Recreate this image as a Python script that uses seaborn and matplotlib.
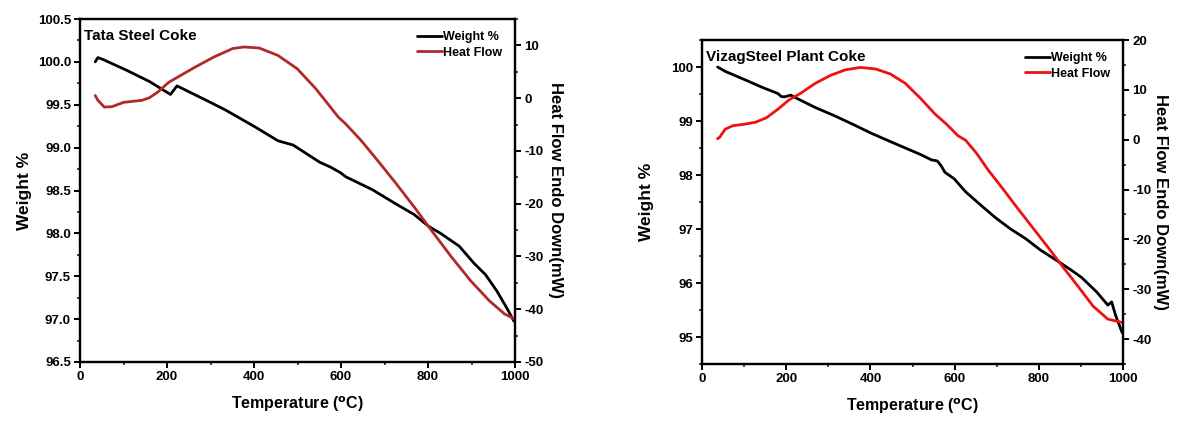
import pandas as pd
import numpy as np
import matplotlib
matplotlib.use('Agg')
import matplotlib.pyplot as plt
import seaborn as sns
from matplotlib.ticker import MultipleLocator

# Tata Steel Coke - TGA / DSC
tata_temp_w = [35, 41, 52, 108, 160, 208, 223, 291, 334, 403, 455, 490, 551, 577, 598, 611,
               672, 724, 768, 802, 829, 872, 906, 932, 958, 980, 997, 1000]
tata_weight = [100.0, 100.05, 100.03, 99.9, 99.77, 99.62, 99.72, 99.55, 99.44, 99.24, 99.08, 99.03,
               98.83, 98.77, 98.71, 98.66, 98.51, 98.35, 98.22, 98.08, 98.0, 97.85, 97.65, 97.52,
               97.33, 97.14, 96.98, 96.97]
tata_temp_h = [35, 41, 56, 74, 100, 143, 160, 178, 204, 225, 265, 308, 351, 377, 412, 455, 499,
               542, 594, 611, 646, 681, 724, 768, 811, 854, 898, 941, 976, 1000]
tata_heat = [0.5, -0.4, -1.7, -1.6, -0.8, -0.4, 0.1, 1.1, 3.0, 4.0, 5.9, 7.8, 9.4, 9.7, 9.5, 8.1,
             5.6, 1.8, -3.6, -4.9, -8.0, -11.5, -15.9, -20.6, -25.4, -30.1, -34.6, -38.4, -40.9, -41.9]

# Vizag Steel Plant Coke - TGA / DSC
vizag_temp_w = [37, 55, 73, 109, 144, 180, 189, 198, 211, 220, 269, 314, 358, 403, 447, 492, 519,
                545, 559, 568, 577, 599, 626, 661, 697, 733, 769, 804, 840, 875, 902, 938, 964,
                973, 982, 998]
vizag_weight = [100.0, 99.92, 99.86, 99.74, 99.62, 99.51, 99.45, 99.45, 99.48, 99.44, 99.25, 99.10,
                98.94, 98.77, 98.62, 98.47, 98.38, 98.28, 98.26, 98.17, 98.05, 97.93, 97.69, 97.45,
                97.21, 97.00, 96.82, 96.61, 96.43, 96.25, 96.10, 95.83, 95.59, 95.65, 95.41, 95.08]
vizag_temp_h = [37, 42, 55, 73, 100, 127, 153, 180, 207, 234, 269, 305, 340, 376, 412, 447, 483,
                519, 554, 581, 608, 626, 652, 679, 715, 750, 786, 822, 857, 893, 929, 964, 1000]
vizag_heat = [0.2, 0.5, 2.1, 2.8, 3.1, 3.5, 4.4, 6.1, 8.0, 9.3, 11.3, 12.9, 14.0, 14.5, 14.2, 13.2,
              11.3, 8.3, 5.1, 3.1, 0.8, -0.1, -2.7, -6.0, -9.9, -13.8, -17.7, -21.6, -25.5, -29.4,
              -33.4, -36.0, -36.7]

sns.set_style('ticks')
plt.rcParams['font.family'] = ['Liberation Sans', 'DejaVu Sans']
plt.rcParams['font.weight'] = 'bold'
plt.rcParams['mathtext.default'] = 'bf'
plt.rcParams['axes.unicode_minus'] = False
plt.rcParams['text.color'] = 'black'
plt.rcParams['axes.labelcolor'] = 'black'

fig = plt.figure(figsize=(11.78, 4.21), dpi=100)
W, H = 1178, 421


def make_panel(rect, title, tw, w, th, h, heat_color, wlim, wmajor, wminor, hlim, hfmt,
               lpad, rpad):
    ax1 = fig.add_axes(rect)
    ax2 = ax1.twinx()
    sns.lineplot(x=tw, y=w, ax=ax1, color='black', lw=2, label='Weight %', legend=False)
    sns.lineplot(x=th, y=h, ax=ax2, color=heat_color, lw=2, label='Heat Flow', legend=False)
    ax1.set_xlim(0, 1000)
    ax1.set_ylim(*wlim)
    ax2.set_ylim(*hlim)
    ax1.xaxis.set_major_locator(MultipleLocator(200))
    ax1.xaxis.set_minor_locator(MultipleLocator(100))
    ax1.yaxis.set_major_locator(MultipleLocator(wmajor))
    ax1.yaxis.set_minor_locator(MultipleLocator(wminor))
    ax2.yaxis.set_major_locator(MultipleLocator(10))
    ax2.yaxis.set_minor_locator(MultipleLocator(5))
    if hfmt:
        ax1.yaxis.set_major_formatter(plt.FormatStrFormatter(hfmt))
    for ax in (ax1, ax2):
        for s in ax.spines.values():
            s.set_linewidth(1.6)
            s.set_color('black')
        ax.tick_params(which='major', length=4, width=1.4, labelsize=9.5, colors='black', pad=2.5)
        ax.tick_params(which='minor', length=2.5, width=1.2)
    ax1.set_xlabel('Temperature ($^{o}$C)', fontsize=11.5, fontweight='bold', labelpad=8)
    ax1.set_ylabel('Weight %', fontsize=12.5, fontweight='bold', labelpad=lpad)
    ax2.set_ylabel('Heat Flow Endo Down(mW)', fontsize=12, fontweight='bold',
                   rotation=-90, labelpad=rpad)
    ax1.text(0.01, 0.97, title, transform=ax1.transAxes, fontsize=11,
             fontweight='bold', va='top', ha='left')
    handles = ax1.get_lines()[:1] + ax2.get_lines()[:1]
    ax2.legend(handles, ['Weight %', 'Heat Flow'], loc='upper right', frameon=False,
               fontsize=9, handlelength=2.0, handletextpad=0.1, borderaxespad=0.6,
               labelspacing=0.25)
    return ax1, ax2


make_panel([80 / W, 1 - 362 / H, 435 / W, 343 / H], 'Tata Steel Coke',
           tata_temp_w, tata_weight, tata_temp_h, tata_heat, '#b02a2a',
           (96.5, 100.5), 0.5, 0.25, (-50, 15), '%.1f', 4, 14)
make_panel([702 / W, 1 - 364 / H, 421 / W, 324 / H], 'VizagSteel Plant Coke',
           vizag_temp_w, vizag_weight, vizag_temp_h, vizag_heat, '#ee1111',
           (94.5, 100.5), 1, 0.5, (-45, 20), None, 12, 12)

fig.savefig('out.png', dpi=100)
